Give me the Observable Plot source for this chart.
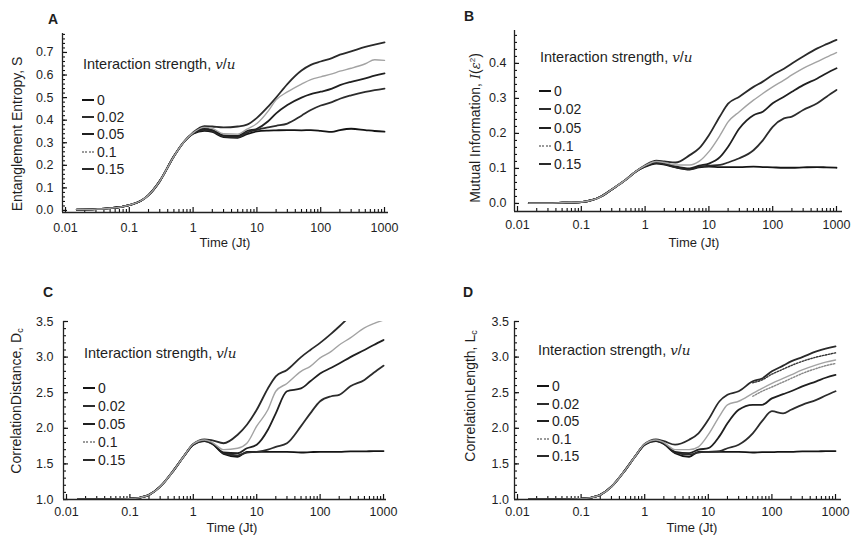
<!DOCTYPE html>
<html><head><meta charset="utf-8">
<script src="https://cdn.jsdelivr.net/npm/d3@7"></script>
<script src="https://cdn.jsdelivr.net/npm/@observablehq/plot@0.6"></script>
<style>
body{margin:0;background:#fff;}
#root{position:relative;width:854px;height:537px;font-family:"Liberation Sans",Arial,Helvetica,sans-serif;color:#1e1e1e;overflow:hidden;background:#fff}
.panel{position:absolute}
.panel svg{display:block}
.ov{position:absolute;white-space:nowrap;line-height:1}
.letter{font-weight:bold;font-size:14px;transform:translateY(-50%)}
.xl{font-size:13px;transform:translate(-50%,-50%)}
.yl{font-size:14px;transform:translate(-50%,-50%) rotate(-90deg)}
.lt{font-size:14.5px;transform:translateY(-50%)}
.mi{font-family:"DejaVu Serif","Liberation Serif",serif;font-style:italic;font-size:13.5px}
.yl .mi{font-size:13px}
.row{font-size:14px;transform:translateY(-50%);display:flex;align-items:center}
.sw{display:inline-block;width:12px;height:0;border-top:2px solid #222;margin-right:3px}
sub{font-size:9px;vertical-align:-2px}
sup{font-size:8px;vertical-align:5px}
</style></head>
<body><div id="root"></div>
<script>
// ---- data ----
const times = [0.015,0.03,0.05,0.1,0.15,0.2,0.3,0.5,0.7,1,1.5,2,3,5,7,10,15,20,30,50,70,100,150,200,300,500,700,1000];
const strengths = ["0","0.02","0.05","0.1","0.15"];
const seriesColors = ["#141414","#2c2c2c","#202020","#a3a3a3","#2a2a2a"];
const xTicks = [0.01,0.1,1,10,100,1000];
const xTickLabels = ["0.01","0.1","1","10","100","1000"];

// Panel A: Entanglement entropy S
const A_0   = [0.004,0.006,0.01,0.024,0.042,0.068,0.13,0.24,0.30,0.34,0.353,0.348,0.325,0.322,0.338,0.35,0.354,0.355,0.356,0.355,0.356,0.353,0.348,0.356,0.362,0.356,0.352,0.349];
const A_002 = [0.004,0.006,0.01,0.024,0.042,0.068,0.13,0.24,0.30,0.341,0.357,0.352,0.328,0.325,0.345,0.357,0.368,0.375,0.385,0.42,0.445,0.465,0.48,0.495,0.51,0.525,0.533,0.54];
const A_005 = [0.004,0.006,0.01,0.024,0.042,0.068,0.13,0.24,0.30,0.342,0.362,0.357,0.333,0.33,0.352,0.362,0.395,0.43,0.467,0.5,0.515,0.526,0.54,0.555,0.57,0.585,0.597,0.607];
const A_01  = [0.004,0.006,0.01,0.024,0.042,0.068,0.13,0.24,0.30,0.344,0.368,0.363,0.34,0.338,0.36,0.385,0.44,0.49,0.525,0.56,0.58,0.592,0.605,0.617,0.63,0.65,0.668,0.665];
const A_015 = [0.004,0.006,0.01,0.024,0.042,0.068,0.13,0.24,0.30,0.346,0.374,0.372,0.368,0.372,0.38,0.41,0.46,0.5,0.56,0.62,0.645,0.66,0.675,0.69,0.705,0.725,0.735,0.745];
const A_yTicks = [0,0.1,0.2,0.3,0.4,0.5,0.6,0.7];

// Panel B: Mutual information
const B_0   = [0.001,0.001,0.002,0.004,0.01,0.019,0.04,0.068,0.09,0.105,0.114,0.111,0.103,0.097,0.103,0.105,0.104,0.104,0.104,0.105,0.104,0.103,0.102,0.102,0.103,0.104,0.103,0.102];
const B_002 = [0.001,0.001,0.002,0.004,0.01,0.019,0.04,0.068,0.09,0.106,0.116,0.113,0.104,0.098,0.105,0.108,0.11,0.117,0.129,0.152,0.18,0.219,0.243,0.248,0.267,0.286,0.305,0.324];
const B_005 = [0.001,0.001,0.002,0.004,0.01,0.019,0.04,0.068,0.09,0.107,0.118,0.115,0.106,0.1,0.108,0.114,0.133,0.162,0.214,0.252,0.262,0.286,0.305,0.319,0.338,0.357,0.372,0.386];
const B_01  = [0.001,0.001,0.002,0.004,0.01,0.019,0.04,0.068,0.09,0.108,0.12,0.117,0.11,0.11,0.12,0.148,0.195,0.233,0.262,0.295,0.314,0.333,0.352,0.367,0.386,0.405,0.418,0.431];
const B_015 = [0.001,0.001,0.002,0.004,0.01,0.019,0.04,0.068,0.09,0.109,0.122,0.12,0.117,0.138,0.157,0.195,0.25,0.285,0.305,0.333,0.348,0.367,0.385,0.40,0.42,0.443,0.455,0.467];
const B_yTicks = [0,0.1,0.2,0.3,0.4];

// Panel C: Correlation distance
const C_0   = [1.0,1.0,1.0,1.01,1.03,1.065,1.18,1.42,1.6,1.77,1.82,1.78,1.64,1.60,1.67,1.67,1.67,1.67,1.67,1.66,1.665,1.67,1.67,1.67,1.675,1.675,1.68,1.68];
const C_002 = [1.0,1.0,1.0,1.01,1.03,1.065,1.18,1.42,1.6,1.77,1.825,1.785,1.65,1.62,1.66,1.67,1.70,1.74,1.79,2.03,2.21,2.38,2.45,2.47,2.59,2.68,2.78,2.88];
const C_005 = [1.0,1.0,1.0,1.01,1.03,1.065,1.18,1.42,1.6,1.775,1.83,1.79,1.66,1.65,1.72,1.77,1.98,2.21,2.52,2.56,2.66,2.77,2.85,2.91,3.0,3.1,3.17,3.24];
const C_01  = [1.0,1.0,1.0,1.01,1.03,1.065,1.18,1.42,1.6,1.78,1.835,1.80,1.70,1.72,1.79,2.03,2.26,2.52,2.63,2.8,2.87,2.99,3.08,3.17,3.27,3.41,3.47,3.52];
const C_015 = [1.0,1.0,1.0,1.01,1.03,1.065,1.18,1.42,1.6,1.78,1.845,1.83,1.79,1.91,2.05,2.26,2.56,2.73,2.82,3.0,3.1,3.2,3.33,3.43,3.58,null,null,null];
const CD_yTicks = [1,1.5,2,2.5,3,3.5];

// Panel D: Correlation length
const D_0   = [1.0,1.0,1.0,1.01,1.03,1.065,1.18,1.42,1.6,1.77,1.82,1.78,1.65,1.60,1.67,1.67,1.67,1.67,1.67,1.66,1.665,1.665,1.67,1.67,1.675,1.675,1.68,1.68];
const D_002 = [1.0,1.0,1.0,1.01,1.03,1.065,1.18,1.42,1.6,1.77,1.825,1.785,1.66,1.63,1.66,1.67,1.68,1.72,1.77,1.93,2.10,2.24,2.21,2.26,2.33,2.40,2.46,2.52];
const D_005 = [1.0,1.0,1.0,1.01,1.03,1.065,1.18,1.42,1.6,1.775,1.83,1.79,1.67,1.65,1.70,1.72,1.89,2.07,2.26,2.33,2.33,2.42,2.48,2.52,2.59,2.66,2.71,2.75];
const D_01  = [1.0,1.0,1.0,1.01,1.03,1.065,1.18,1.42,1.6,1.78,1.835,1.80,1.70,1.70,1.74,1.91,2.17,2.33,2.38,2.49,2.56,2.63,2.70,2.75,2.82,2.89,2.93,2.96];
const D_015 = [1.0,1.0,1.0,1.01,1.03,1.065,1.18,1.42,1.6,1.78,1.845,1.82,1.77,1.84,1.93,2.12,2.38,2.47,2.52,2.66,2.70,2.8,2.88,2.94,3.0,3.08,3.12,3.15];
// secondary dotted traces visible in panel D (no legend entry)
const D_015b = [null,null,null,null,null,null,null,null,null,null,null,null,null,null,null,null,null,null,null,2.64,2.68,2.76,2.83,2.88,2.94,3.0,3.03,3.06];
const D_01b  = [null,null,null,null,null,null,null,null,null,null,null,null,null,null,null,null,null,null,null,2.45,2.52,2.58,2.65,2.70,2.77,2.84,2.88,2.91];

// ---- layout ----
const xMinor = [];
for (const d of [0.01,0.1,1,10,100]) for (let k = 2; k <= 9; k++) xMinor.push(+(d*k).toPrecision(3));
const stepTicks = (a, b, s) => d3.range(Math.round((b - a) / s) + 1).map(i => +(a + i * s).toFixed(3));

const panels = [
  {key:"A", left:0, top:0, w:427, h:268, mL:62, mR:39, mT:33, mB:56,
   xDomain:[0.00897,1155], yDomain:[-0.009,0.784], yTicks:A_yTicks, yMinor:stepTicks(0,0.78,0.02),
   xPad:11, yPad:9, series:[A_0,A_002,A_005,A_01,A_015], extra:[],
   letter:[48,19], ylabel:{html:"Entanglement Entropy, S", x:17, y:134}, xlabel:[225,242],
   legend:{x:82, titleY:64, y0:100, step:17.2}},
  {key:"B", left:427, top:0, w:427, h:268, mL:87, mR:12, mT:30, mB:57,
   xDomain:[0.00897,1242], yDomain:[-0.023,0.494], yTicks:B_yTicks, yMinor:stepTicks(0,0.48,0.02),
   xPad:8.5, yPad:8, series:[B_0,B_002,B_005,B_01,B_015], extra:[],
   letter:[37,16], ylabel:{html:'Mutual Information, <span class="mi">I</span>(<span class="mi">ε</span><sup>2</sup>)', x:48, y:128}, xlabel:[267,242],
   legend:{x:112, titleY:57, y0:91, step:18.3}},
  {key:"C", left:0, top:268, w:427, h:269, mL:63, mR:41, mT:53, mB:38,
   xDomain:[0.00897,1114], yDomain:[1,3.5], yTicks:CD_yTicks, yMinor:stepTicks(1,3.5,0.1),
   xPad:8, yPad:10, series:[C_0,C_002,C_005,C_01,C_015], extra:[],
   letter:[43,24], ylabel:{html:"CorrelationDistance, D<sub>c</sub>", x:17, y:133}, xlabel:[232,258.5],
   legend:{x:83, titleY:85, y0:120, step:17.9}},
  {key:"D", left:427, top:268, w:427, h:269, mL:87, mR:13, mT:53, mB:38,
   xDomain:[0.00897,1242], yDomain:[1,3.5], yTicks:CD_yTicks, yMinor:stepTicks(1,3.5,0.1),
   xPad:8, yPad:5.5, series:[D_0,D_002,D_005,D_01,D_015], extra:[D_015b,D_01b],
   letter:[36,24], ylabel:{html:"CorrelationLength, L<sub>c</sub>", x:44, y:128}, xlabel:[265,258.5],
   legend:{x:110, titleY:82, y0:118, step:17.5}}
];

const root = document.getElementById("root");
const yFmt = d3.format(".1f");

for (const p of panels) {
  const div = document.createElement("div");
  div.className = "panel";
  div.style.left = p.left + "px"; div.style.top = p.top + "px";
  div.style.width = p.w + "px"; div.style.height = p.h + "px";
  root.appendChild(div);

  const frameH = p.h - p.mT - p.mB;
  const frameW = p.w - p.mL - p.mR;

  const lineMarks = [];
  p.extra.forEach((vals, j) => {
    lineMarks.push(Plot.line(times.map((t, i) => ({t, v: vals[i]})),
      {x:"t", y:"v", stroke: j === 0 ? "#333" : "#888", strokeWidth:1.4, strokeDasharray:"1.5,1.5", curve:"monotone-x", clip:true}));
  });
  const order = [0,1,2,4,3];
  for (const j of order) {
    const vals = p.series[j];
    lineMarks.push(Plot.line(times.map((t, i) => ({t, v: vals[i], s: strengths[j]})),
      {x:"t", y:"v", stroke: seriesColors[j], strokeWidth: j === 3 ? 1.4 : 1.8, curve:"monotone-x", clip:true}));
  }

  const svg = Plot.plot({
    width: p.w, height: p.h,
    marginLeft: p.mL, marginRight: p.mR, marginTop: p.mT, marginBottom: p.mB,
    x: {type:"log", domain:p.xDomain},
    y: {domain:p.yDomain},
    style: {fontFamily:'"Liberation Sans",Arial,Helvetica,sans-serif', fontSize:"12.5px", color:"#1e1e1e", background:"transparent", overflow:"visible"},
    marks: [
      // inward ticks
      Plot.tickX(xMinor, {x: d => d, insetTop: frameH - 3, stroke:"#111", strokeWidth:1.1}),
      Plot.tickX(xTicks, {x: d => d, insetTop: frameH - 5, stroke:"#111", strokeWidth:1.2}),
      Plot.tickY(p.yMinor, {y: d => d, insetRight: frameW - 3, stroke:"#111", strokeWidth:1.1}),
      Plot.tickY(p.yTicks, {y: d => d, insetRight: frameW - 5, stroke:"#111", strokeWidth:1.2}),
      // tick labels
      Plot.axisX(xTicks, {tickSize:0, tickPadding:p.xPad, tickFormat:d => xTickLabels[xTicks.indexOf(d)], label:null, fill:"#1e1e1e"}),
      Plot.axisY(p.yTicks, {tickSize:0, tickPadding:p.yPad, tickFormat:yFmt, label:null, fill:"#1e1e1e"}),
      ...lineMarks,
      Plot.ruleY([p.yDomain[0]], {stroke:"#222", strokeWidth:1.3}),
      Plot.ruleX([p.xDomain[0]], {stroke:"#222", strokeWidth:1.3})
    ]
  });
  div.appendChild(svg);

  const add = (cls, html, x, y) => {
    const e = document.createElement("div");
    e.className = "ov " + cls; e.innerHTML = html;
    e.style.left = x + "px"; e.style.top = y + "px";
    div.appendChild(e); return e;
  };
  add("letter", p.key, p.letter[0], p.letter[1]);
  add("yl", p.ylabel.html, p.ylabel.x, p.ylabel.y);
  add("xl", "Time (Jt)", p.xlabel[0], p.xlabel[1]);
  add("lt", 'Interaction strength, <span class="mi">v</span>/<span class="mi">u</span>', p.legend.x + 1, p.legend.titleY);
  strengths.forEach((s, j) => {
    const sw = j === 3 ? "border-top:2px dotted #9a9a9a" : "border-top:2px solid " + seriesColors[j];
    add("row", `<span class="sw" style="${sw}"></span>${s}`, p.legend.x, p.legend.y0 + j * p.legend.step);
  });
}
</script>
</body></html>
